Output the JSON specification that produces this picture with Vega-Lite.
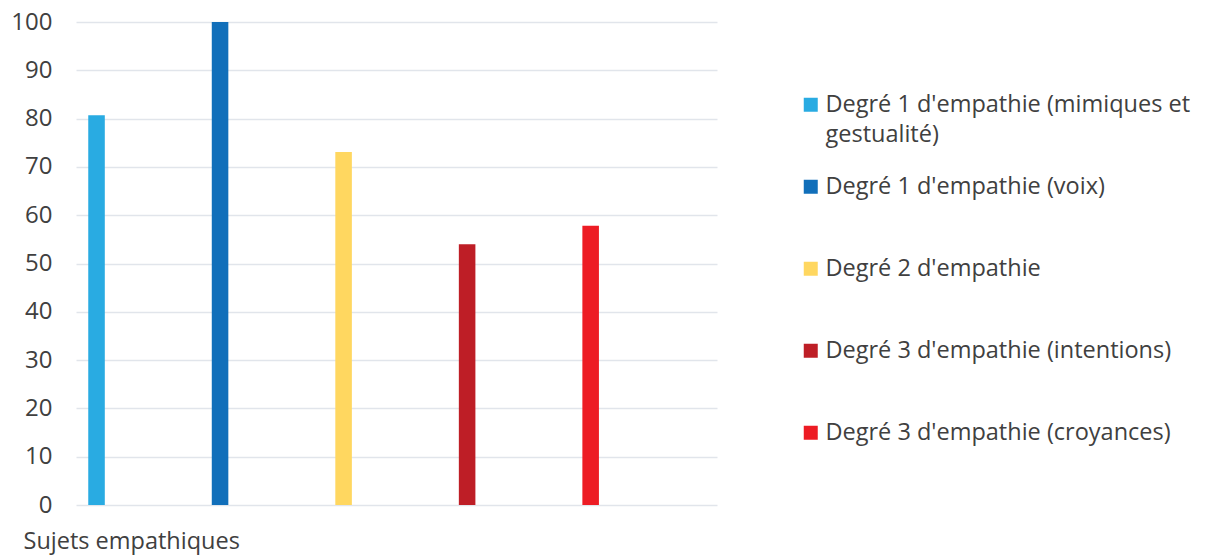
{
  "$schema": "https://vega.github.io/schema/vega-lite/v6.json",
  "width": 641,
  "height": 483,
  "autosize": {"type": "none"},
  "padding": {"left": 76, "top": 22, "right": 490, "bottom": 51},
  "background": "white",
  "config": {"view": {"stroke": null}, "font": "Open Sans"},
  "data": {
    "values": [
      {"categorie": "Sujets empathiques", "serie": "Degré 1 d'empathie (mimiques et gestualité)", "valeur": 80.7},
      {"categorie": "Sujets empathiques", "serie": "Degré 1 d'empathie (voix)", "valeur": 100},
      {"categorie": "Sujets empathiques", "serie": "Degré 2 d'empathie", "valeur": 73.1},
      {"categorie": "Sujets empathiques", "serie": "Degré 3 d'empathie (intentions)", "valeur": 54},
      {"categorie": "Sujets empathiques", "serie": "Degré 3 d'empathie (croyances)", "valeur": 57.8}
    ]
  },
  "mark": {"type": "bar"},
  "encoding": {
    "x": {
      "field": "serie",
      "type": "nominal",
      "sort": null,
      "scale": {"paddingInner": 0.866, "paddingOuter": 0.5275, "align": 0.094},
      "axis": {
        "labels": false,
        "ticks": false,
        "domain": false,
        "title": "Sujets empathiques",
        "titleFont": "Open Sans",
        "titleFontSize": 23.5,
        "titleFontWeight": "normal",
        "titleColor": "#404040",
        "titleAnchor": "start",
        "titleAlign": "left",
        "titleBaseline": "alphabetic",
        "titleX": -53,
        "titleY": 43
      }
    },
    "y": {
      "field": "valeur",
      "type": "quantitative",
      "scale": {"domain": [0, 100]},
      "axis": {
        "values": [0, 10, 20, 30, 40, 50, 60, 70, 80, 90, 100],
        "grid": true,
        "gridColor": "#e1e5eb",
        "gridWidth": 1.5,
        "domain": false,
        "ticks": false,
        "labelPadding": 24,
        "labelFont": "Open Sans",
        "labelFontSize": 24,
        "labelColor": "#404040",
        "title": null
      }
    },
    "color": {
      "field": "serie",
      "type": "nominal",
      "sort": null,
      "scale": {
        "domain": [
          "Degré 1 d'empathie (mimiques et gestualité)",
          "Degré 1 d'empathie (voix)",
          "Degré 2 d'empathie",
          "Degré 3 d'empathie (intentions)",
          "Degré 3 d'empathie (croyances)"
        ],
        "range": ["#29abe2", "#116fba", "#ffd760", "#be1e26", "#ed1c24"]
      },
      "legend": {
        "orient": "none",
        "legendX": 723,
        "legendY": 71,
        "title": null,
        "symbolType": "square",
        "symbolSize": 196,
        "symbolStrokeWidth": 0,
        "labelFont": "Open Sans",
        "labelFontSize": 23.5,
        "labelColor": "#404040",
        "labelLimit": 500,
        "labelOffset": 3,
        "gridAlign": "all",
        "rowPadding": 27,
        "labelExpr": "test(/mimiques/, datum.label) ? [\"Degré 1 d'empathie (mimiques et\", \"gestualité)\"] : datum.label",
        "encode": {"labels": {"update": {"lineHeight": {"value": 30}}}}
      }
    }
  }
}
